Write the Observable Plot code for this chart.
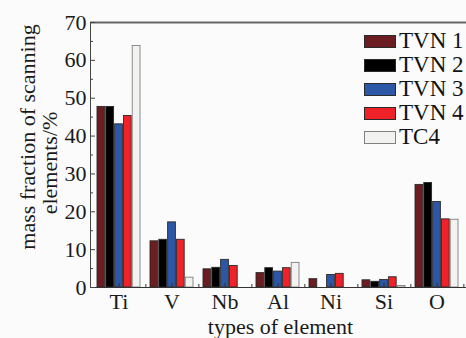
<!DOCTYPE html>
<html>
<head>
<meta charset="utf-8">
<script src="https://cdn.jsdelivr.net/npm/d3@7"></script>
<script src="https://cdn.jsdelivr.net/npm/@observablehq/plot@0.6"></script>
<style>
  html, body { margin: 0; padding: 0; background: #fbfbfb; }
  #wrap { position: relative; width: 466px; height: 338px; font-family: "Liberation Serif", serif; }
  #legend { position: absolute; left: 364px; top: 29px; color: #111; font-family: "Liberation Serif", serif; font-size: 23px; line-height: 23.5px; }
  .row { display: flex; align-items: center; height: 24px; }
  .sw { width: 32px; height: 13px; box-sizing: border-box; border: 1px solid #333; margin-right: 3px; }
</style>
</head>
<body>
<div id="wrap"><div id="legend"></div></div>
<script>
const elements = ["Ti", "V", "Nb", "Al", "Ni", "Si", "O"];
const seriesNames = ["TVN 1", "TVN 2", "TVN 3", "TVN 4", "TC4"];
const tvn1 = [47.7, 12.2, 4.8, 3.8, 2.2, 1.9, 27.1];
const tvn2 = [47.7, 12.6, 5.2, 5.1, 0, 1.5, 27.6];
const tvn3 = [43.1, 17.2, 7.3, 4.2, 3.3, 2.0, 22.6];
const tvn4 = [45.3, 12.6, 5.7, 5.1, 3.6, 2.7, 18.0];
const tc4 = [63.8, 2.6, 0, 6.5, 0, 0.4, 17.9];
const yMajorTicks = [0, 10, 20, 30, 40, 50, 60, 70];
const yMinorTicks = [5, 15, 25, 35, 45, 55, 65];
const colors = ["#6b1d22", "#000000", "#2c56a6", "#ee2228", "#f2f2f0"];
const strokes = ["#2a2a2a", "#2a2a2a", "#2a2a2a", "#2a2a2a", "#808080"];

const seriesValues = [tvn1, tvn2, tvn3, tvn4, tc4];
const W = 466, H = 338, ML = 90, MR = 0, MT = 22, MB = 51;
const padIn = 0.18, padOut = 0.09;
const step = (W - ML - MR) / (elements.length - padIn + 2 * padOut);
const bw = step * (1 - padIn) / seriesNames.length;

const barMarks = seriesValues.map((vals, i) =>
  Plot.barY(elements.map((e, j) => ({element: e, value: vals[j]})), {
    x: "element", y: "value",
    fill: colors[i], stroke: strokes[i], strokeWidth: 0.9,
    insetLeft: i * bw, insetRight: (seriesNames.length - 1 - i) * bw
  })
);

const font = {fontFamily: "Liberation Serif", fontSize: 22, fill: "#1a1a1a"};

const chart = Plot.plot({
  width: W, height: H,
  marginLeft: ML, marginRight: MR, marginTop: MT, marginBottom: MB,
  style: {background: "#fbfbfb", fontFamily: "Liberation Serif", overflow: "visible"},
  x: {domain: elements, paddingInner: padIn, paddingOuter: padOut, label: null, axis: null},
  y: {domain: [0, 70], label: null, axis: null},
  marks: [
    ...barMarks,
    Plot.ruleY([0], {stroke: "#333", strokeWidth: 1}),
    Plot.ruleY([70], {stroke: "#666", strokeWidth: 2}),
    Plot.frame({anchor: "left", stroke: "#444", strokeWidth: 1}),
    Plot.axisY({ticks: yMajorTicks, tickSize: -5, tickFormat: () => "", stroke: "#444"}),
    Plot.axisY({ticks: yMinorTicks, tickSize: -3, tickFormat: () => "", stroke: "#444"}),
    Plot.axisY({ticks: yMajorTicks, tickSize: 0, tickPadding: 4, ...font}),
    Plot.axisX({tickSize: -4, tickFormat: () => "", stroke: "#333"}),
    Plot.axisX({tickSize: -3, tickFormat: () => "", stroke: "#333", dx: step / 2}),
    Plot.axisX({tickSize: 0, tickPadding: 6, ...font}),
    Plot.text(["mass fraction of scanning"], {frameAnchor: "middle", rotate: -90, dx: -251, dy: -18, ...font}),
    Plot.text(["elements/%"], {frameAnchor: "middle", rotate: -90, dx: -229, dy: 8, ...font}),
    Plot.text(["types of element"], {frameAnchor: "bottom", lineAnchor: "middle", dy: 39, dx: 2, ...font})
  ]
});
const wrap = document.getElementById("wrap");
wrap.insertBefore(chart, wrap.firstChild);

const legend = document.getElementById("legend");
seriesNames.forEach((name, i) => {
  const row = document.createElement("div");
  row.className = "row";
  const sw = document.createElement("span");
  sw.className = "sw";
  sw.style.background = colors[i];
  sw.style.borderColor = strokes[i];
  const t = document.createElement("span");
  t.textContent = name;
  row.appendChild(sw);
  row.appendChild(t);
  legend.appendChild(row);
});
</script>
</body>
</html>
